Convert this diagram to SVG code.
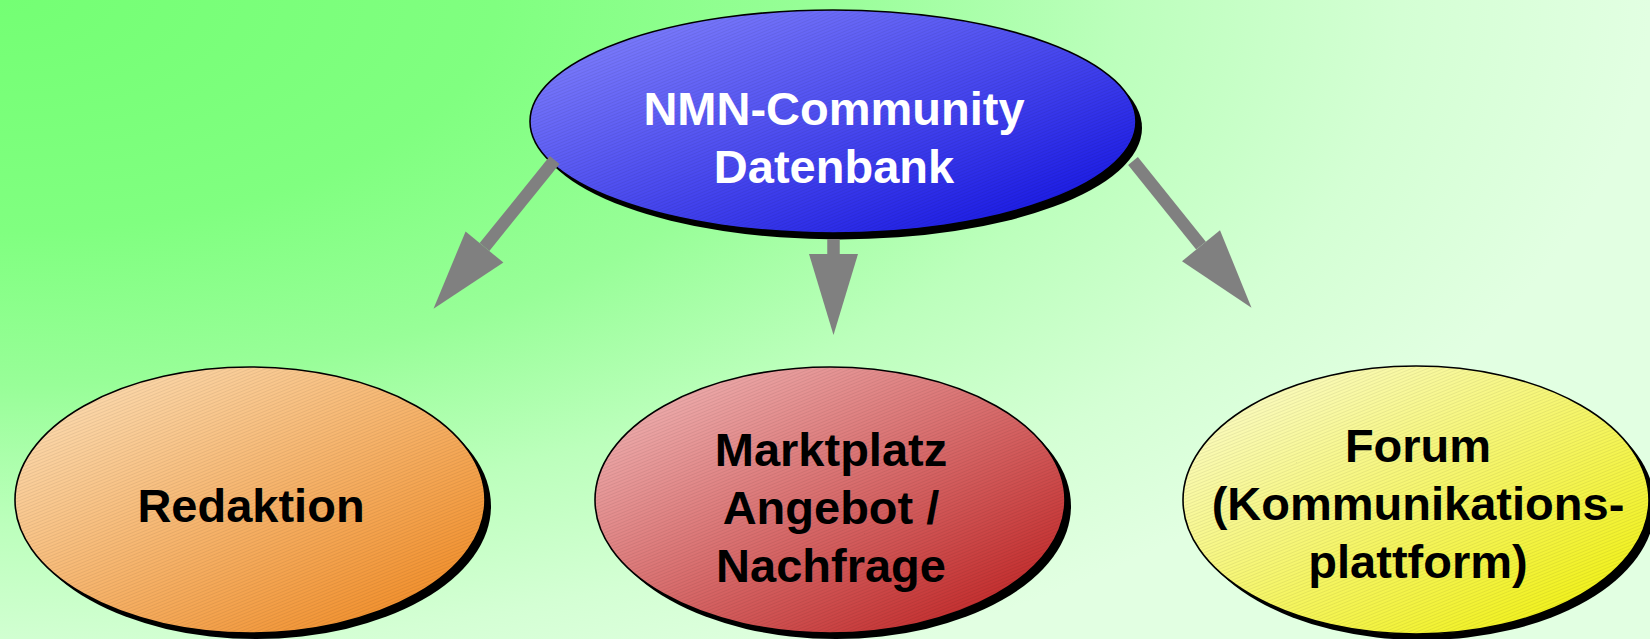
<svg xmlns="http://www.w3.org/2000/svg" width="1650" height="639" viewBox="0 0 1650 639">
<style>
.node{stroke:#000;stroke-width:1.6}
.shadow{fill:#000}
.hatch{fill:url(#hatch)}
.lbl{font-family:"Liberation Sans",Arial,sans-serif;font-weight:bold;font-size:47px;text-anchor:middle}
.dark{fill:#000}
.light{fill:#fff}
.shaft{stroke:#808080;stroke-width:12.5;fill:none}
.head{fill:#808080}
</style>
<defs>
<radialGradient id="bg" gradientUnits="userSpaceOnUse" cx="0" cy="0" r="1650" fx="0" fy="0" gradientTransform="scale(1,0.467)">
<stop offset="0" stop-color="#74ff74"/>
<stop offset="0.3" stop-color="#80ff80"/>
<stop offset="0.5" stop-color="#98fe98"/>
<stop offset="0.68" stop-color="#bcffbc"/>
<stop offset="0.85" stop-color="#d4ffd4"/>
<stop offset="1" stop-color="#e2ffe2"/>
</radialGradient>
<linearGradient id="gBlue" x1="0" y1="0" x2="1" y2="1">
<stop offset="0" stop-color="#8a8aff"/>
<stop offset="1" stop-color="#0c0ce0"/>
</linearGradient>
<linearGradient id="gOrange" x1="0" y1="0" x2="1" y2="1">
<stop offset="0" stop-color="#fde4c0"/>
<stop offset="1" stop-color="#f08418"/>
</linearGradient>
<linearGradient id="gRed" x1="0" y1="0" x2="1" y2="1">
<stop offset="0" stop-color="#f4c0c0"/>
<stop offset="1" stop-color="#bc1818"/>
</linearGradient>
<linearGradient id="gYellow" x1="0" y1="0" x2="1" y2="1">
<stop offset="0" stop-color="#fcfcd8"/>
<stop offset="1" stop-color="#f0f000"/>
</linearGradient>
<pattern id="hatch" patternUnits="userSpaceOnUse" width="3" height="3" patternTransform="rotate(-22)">
<line x1="0" y1="0.5" x2="3" y2="0.5" stroke="#000" stroke-opacity="0.07" stroke-width="1"/>
</pattern>
</defs>
<rect x="0" y="0" width="1650" height="639" fill="url(#bg)"/>

<g id="node-datenbank">
<ellipse class="shadow" cx="839" cy="128" rx="303" ry="111.5"/>
<ellipse class="node" cx="833" cy="121.5" rx="303" ry="111.5" fill="url(#gBlue)"/>
<ellipse class="hatch" cx="833" cy="121.5" rx="302" ry="110.5"/>
<text class="lbl light" x="834" y="125">NMN-Community</text>
<text class="lbl light" x="834" y="183">Datenbank</text>
</g>

<g id="node-redaktion">
<ellipse class="shadow" cx="256" cy="506" rx="235" ry="133"/>
<ellipse class="node" cx="250" cy="500" rx="235" ry="133" fill="url(#gOrange)"/>
<ellipse class="hatch" cx="250" cy="500" rx="234" ry="132"/>
<text class="lbl dark" x="251" y="522">Redaktion</text>
</g>

<g id="node-marktplatz">
<ellipse class="shadow" cx="836" cy="506" rx="235" ry="133"/>
<ellipse class="node" cx="830" cy="500" rx="235" ry="133" fill="url(#gRed)"/>
<ellipse class="hatch" cx="830" cy="500" rx="234" ry="132"/>
<text class="lbl dark" x="831" y="466">Marktplatz</text>
<text class="lbl dark" x="831" y="524">Angebot /</text>
<text class="lbl dark" x="831" y="582">Nachfrage</text>
</g>

<g id="node-forum">
<ellipse class="shadow" cx="1422" cy="506" rx="233" ry="134"/>
<ellipse class="node" cx="1416" cy="500" rx="233" ry="134" fill="url(#gYellow)"/>
<ellipse class="hatch" cx="1416" cy="500" rx="232" ry="133"/>
<text class="lbl dark" x="1418" y="462">Forum</text>
<text class="lbl dark" x="1418" y="520">(Kommunikations-</text>
<text class="lbl dark" x="1418" y="578">plattform)</text>
</g>

<g id="connectors">
<g id="edge-redaktion">
<line class="shaft" x1="554.7" y1="160" x2="484.5" y2="247"/>
<polygon class="head" points="433.5,308.7 465.6,231.4 503.4,262.6"/>
</g>
<g id="edge-marktplatz">
<line class="shaft" x1="833.5" y1="239" x2="833.5" y2="255"/>
<polygon class="head" points="809,254 858,254 833.5,335"/>
</g>
<g id="edge-forum">
<line class="shaft" x1="1133" y1="161" x2="1201" y2="245.7"/>
<polygon class="head" points="1251.5,307.8 1182,261.2 1220,230.2"/>
</g>
</g>
</svg>
